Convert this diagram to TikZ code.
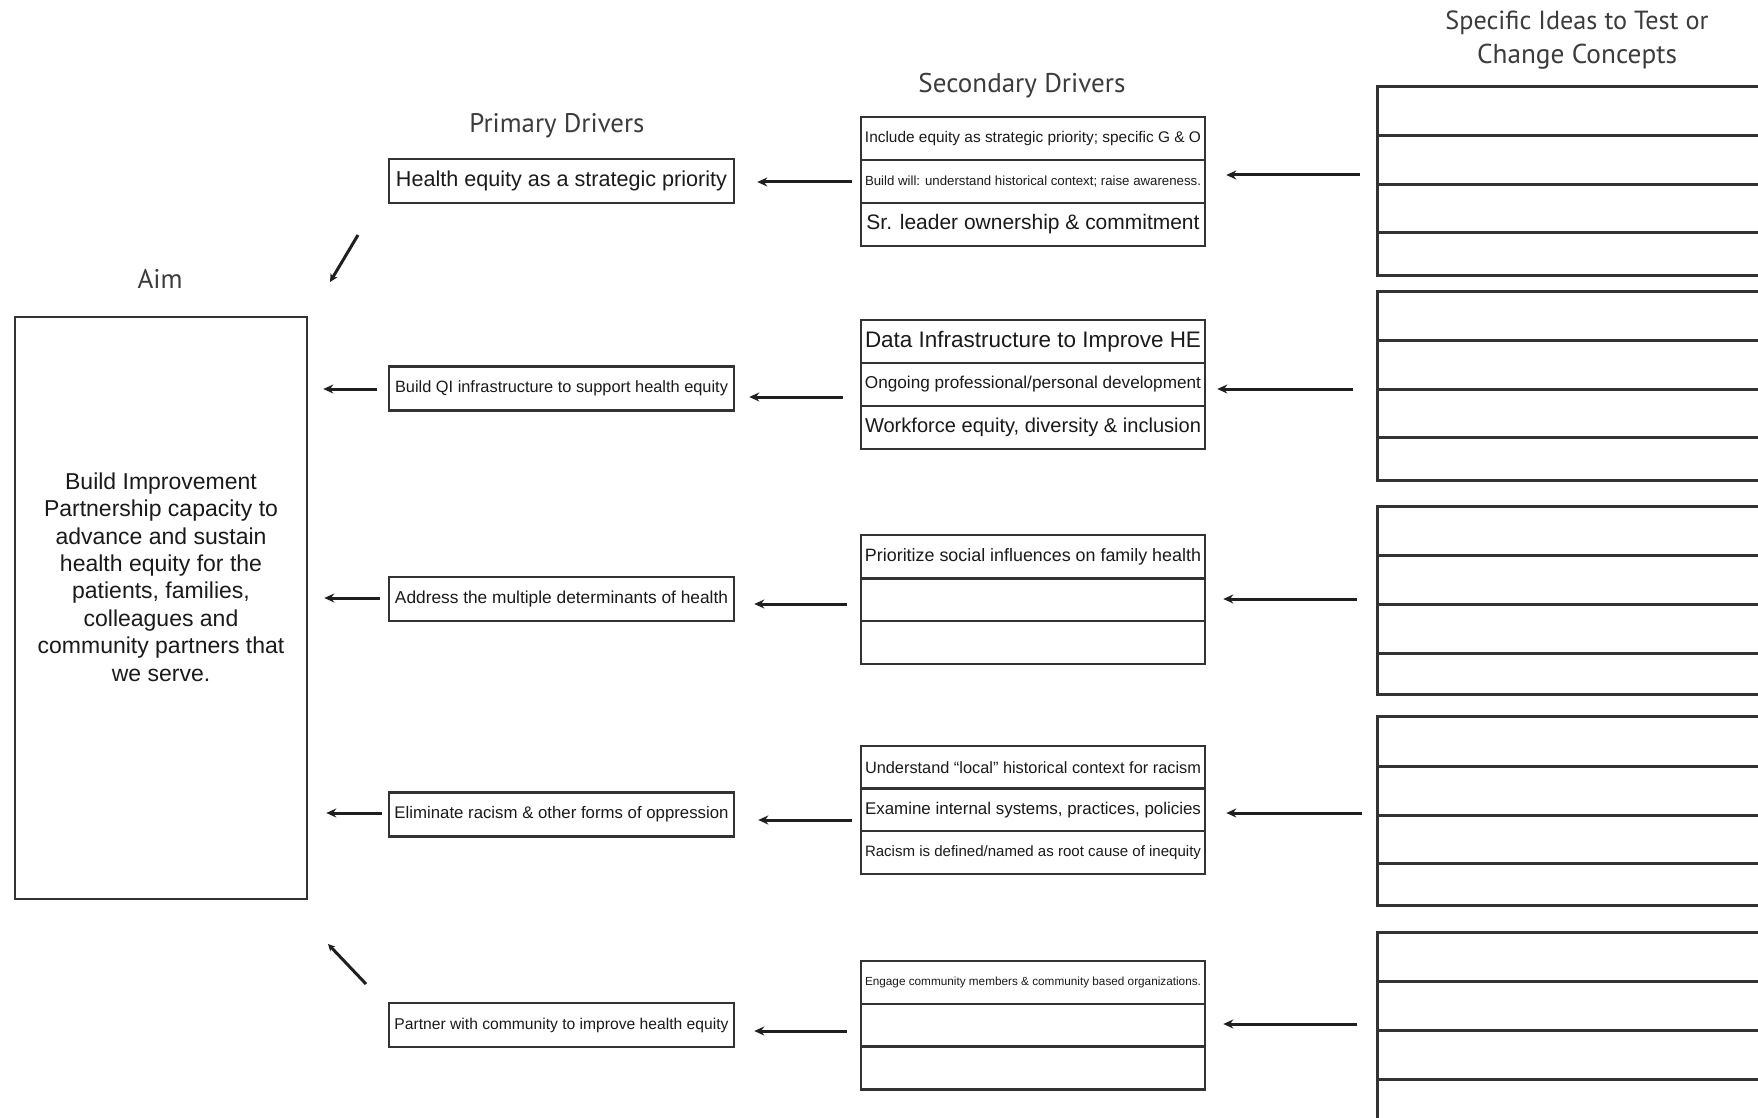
\documentclass[tikz,border=0pt]{standalone}
\usepackage{fontspec}
\setmainfont{Liberation Sans}
\newfontfamily\hdrfont{PT Sans}
\usetikzlibrary{arrows.meta}
\newcommand{\fitw}[2]{\resizebox{#1pt}{!}{#2}}
\definecolor{boxline}{HTML}{333333}
\definecolor{txt}{HTML}{1A1A1A}
\definecolor{hdr}{HTML}{3C3C3C}
\begin{document}
\begin{tikzpicture}[x=1pt,y=-1pt,
  bx/.style={draw=boxline, line width=2.6pt, fill=white, inner sep=0pt, text=txt},
  prim/.style={bx, minimum width=345pt, minimum height=44pt},
  sec/.style={bx, minimum width=344pt, minimum height=43pt},
  idea/.style={bx, minimum width=420pt, anchor=north west},
  arr/.style={line width=3pt, draw=black!88, -{Stealth[length=10pt,width=9pt]}},
  head/.style={text=hdr, inner sep=0pt, font=\hdrfont}]
\useasboundingbox (0,0) rectangle (1758,1118);
\fill[white] (0,0) rectangle (1758,1118);

% headers
\node[head] (haim) at (160,279) {\fitw{45}{Aim}};
\node[head] (hprim) at (557,126) {\fitw{175}{Primary Drivers}};
\node[head] (hsec) at (1022,86) {\fitw{207}{Secondary Drivers}};
\node[head] (hidea1) at (1577,23) {\fitw{263}{Specific Ideas to Test or}};
\node[head] (hidea2) at (1577,57) {\fitw{200}{Change Concepts}};

% aim
\node[bx, minimum width=292pt, minimum height=582pt] (aim) at (161,608) {};
\node[text=txt, align=center, inner sep=0pt, font=\fontsize{23}{27.4}\selectfont] (aimtxt) at (161,577)
  {Build Improvement\\Partnership capacity to\\advance and sustain\\health equity for the\\patients, families,\\colleagues and\\community partners that\\we serve.};

% primary drivers
\node[prim] (p1) at (561.5,181) {\fitw{331}{Health equity as a strategic priority}};
\node[prim] (p2) at (561.5,388.5) {\fitw{333}{Build QI infrastructure to support health equity}};
\node[prim] (p3) at (561.5,599) {\fitw{333}{Address the multiple determinants of health}};
\node[prim] (p4) at (561.5,814.5) {\fitw{334}{Eliminate racism \& other forms of oppression}};
\node[prim] (p5) at (561.5,1025) {\fitw{334}{Partner with community to improve health equity}};

% secondary drivers
\node[sec] (s1a) at (1033,138.5) {\fitw{336}{Include equity as strategic priority; specific G \& O}};
\node[sec] (s1b) at (1033,181.5) {\fitw{336}{Build will: understand historical context; raise awareness.}};
\node[sec] (s1c) at (1033,224.5) {\fitw{333}{Sr. leader ownership \& commitment}};

\node[sec] (s2a) at (1033,341.5) {\fitw{336}{Data Infrastructure to Improve HE}};
\node[sec] (s2b) at (1033,384.5) {\fitw{336}{Ongoing professional/personal development}};
\node[sec] (s2c) at (1033,427.5) {\fitw{336}{Workforce equity, diversity \& inclusion}};

\node[sec] (s3a) at (1033,556.5) {\fitw{336}{Prioritize social influences on family health}};
\node[sec] (s3b) at (1033,600) {};
\node[sec] (s3c) at (1033,642.5) {};

\node[sec] (s4a) at (1033,767.5) {\fitw{336}{Understand “local” historical context for racism}};
\node[sec] (s4b) at (1033,810) {\fitw{336}{Examine internal systems, practices, policies}};
\node[sec] (s4c) at (1033,852.5) {\fitw{336}{Racism is defined/named as root cause of inequity}};

\node[sec] (s5a) at (1033,982.5) {\fitw{336}{Engage community members \& community based organizations.}};
\node[sec] (s5b) at (1033,1025.5) {};
\node[sec] (s5c) at (1033,1068) {};

% specific ideas
\begin{scope}
\clip (0,0) rectangle (1758,1118);
\node[idea, minimum height=49pt] (i1a) at (1376,85) {};
\node[idea, minimum height=49pt] (i1b) at (1376,134) {};
\node[idea, minimum height=48pt] (i1c) at (1376,183) {};
\node[idea, minimum height=43pt] (i1d) at (1376,231) {};

\node[idea, minimum height=49pt] (i2a) at (1376,290) {};
\node[idea, minimum height=49pt] (i2b) at (1376,339) {};
\node[idea, minimum height=48pt] (i2c) at (1376,388) {};
\node[idea, minimum height=43pt] (i2d) at (1376,436) {};

\node[idea, minimum height=49pt] (i3a) at (1376,505) {};
\node[idea, minimum height=49pt] (i3b) at (1376,554) {};
\node[idea, minimum height=49pt] (i3c) at (1376,603) {};
\node[idea, minimum height=41pt] (i3d) at (1376,652) {};

\node[idea, minimum height=50pt] (i4a) at (1376,715) {};
\node[idea, minimum height=49pt] (i4b) at (1376,765) {};
\node[idea, minimum height=48pt] (i4c) at (1376,814) {};
\node[idea, minimum height=42pt] (i4d) at (1376,862) {};

\node[idea, minimum height=49pt] (i5a) at (1376,931) {};
\node[idea, minimum height=49pt] (i5b) at (1376,980) {};
\node[idea, minimum height=49pt] (i5c) at (1376,1029) {};
\node[idea, minimum height=49pt] (i5d) at (1376,1078) {};
\end{scope}

% arrows: ideas -> secondary
\draw[arr, shorten <=16pt, shorten >=20pt] (i1b.west |- 0,175) -- (s1b.east |- 0,175);
\draw[arr, shorten <=23pt, shorten >=11pt] (i2c.west |- 0,389) -- (s2b.east |- 0,389);
\draw[arr, shorten <=19pt, shorten >=17pt] (i3b.west |- 0,599) -- (s3b.east |- 0,599);
\draw[arr, shorten <=14pt, shorten >=20pt] (i4b.west |- 0,813) -- (s4b.east |- 0,813);
\draw[arr, shorten <=19pt, shorten >=17pt] (i5b.west |- 0,1024) -- (s5b.east |- 0,1024);

% arrows: secondary -> primary
\draw[arr, shorten <=8pt, shorten >=22pt] (s1b.west |- 0,182) -- (p1.east |- 0,182);
\draw[arr, shorten <=17pt, shorten >=14pt] (s2b.west |- 0,397) -- (p2.east |- 0,397);
\draw[arr, shorten <=13pt, shorten >=19pt] (s3b.west |- 0,604) -- (p3.east |- 0,604);
\draw[arr, shorten <=8pt, shorten >=23pt] (s4b.west |- 0,820) -- (p4.east |- 0,820);
\draw[arr, shorten <=13pt, shorten >=19pt] (s5b.west |- 0,1031) -- (p5.east |- 0,1031);

% arrows: primary -> aim
\draw[arr, shorten <=11pt, shorten >=15pt] (p2.west |- 0,389) -- (aim.east |- 0,389);
\draw[arr, shorten <=8pt, shorten >=16pt] (p3.west |- 0,598) -- (aim.east |- 0,598);
\draw[arr, shorten <=6pt, shorten >=18pt] (p4.west |- 0,813) -- (aim.east |- 0,813);

% diagonal arrows
\coordinate (d1s) at (358,235);
\coordinate (d1e) at (330,282);
\coordinate (d2s) at (366,984);
\coordinate (d2e) at (328,944);
\draw[arr, -{Stealth[length=8pt,width=8pt]}] (d1s) -- (d1e);
\draw[arr, -{Stealth[length=7pt,width=7pt]}] (d2s) -- (d2e);
\end{tikzpicture}
\end{document}
